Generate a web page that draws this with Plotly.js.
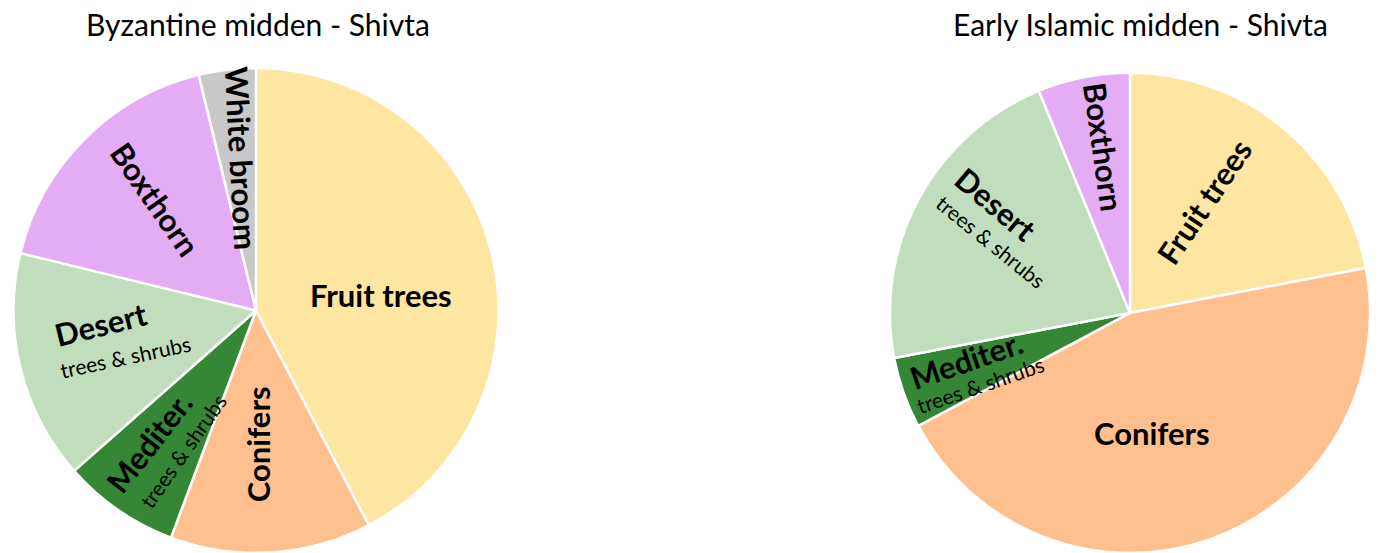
<!DOCTYPE html>
<html>
<head>
<meta charset="utf-8">
<script src="https://cdn.plot.ly/plotly-3.0.1.min.js"></script>
<style>html,body{margin:0;padding:0;background:#fff;}#chart{width:1378px;height:553px;}</style>
</head>
<body>
<div id="chart"></div>
<script>
// ---- data ----
const byzantineTitle = 'Byzantine midden - Shivta';
const byzantineLabels = ['Fruit trees', 'Conifers', 'Mediter.', 'Desert', 'Boxthorn', 'White broom'];
const byzantineSubLabels = ['', '', 'trees & shrubs', 'trees & shrubs', '', ''];
const byzantineValues = [42.3, 13.4, 7.8, 15.3, 17.4, 3.8];

const islamicTitle = 'Early Islamic midden - Shivta';
const islamicLabels = ['Fruit trees', 'Conifers', 'Mediter.', 'Desert', 'Boxthorn'];
const islamicSubLabels = ['', '', 'trees & shrubs', 'trees & shrubs', ''];
const islamicValues = [22.0, 45.2, 4.8, 21.8, 6.2];

// ---- styles ----
const colorMap = {
  'Fruit trees': '#FFE5A2',
  'Conifers': '#FFC08F',
  'Mediter.': '#358635',
  'Desert': '#C2DDBD',
  'Boxthorn': '#E3ACF5',
  'White broom': '#C8C8C8'
};
const FONT = 'Lato, Carlito, "Liberation Sans", sans-serif';
const W = 1378, H = 553;
const M = {l: 0, r: 0, t: 68, b: 0};
const PW = W - M.l - M.r, PH = H - M.t - M.b;

// label placement (angle offset from slice middle, radius fraction, text rotation)
const byzLabelStyle = [
  {main: {da: 6.7, rf: 0.52, rot: 0}},
  {main: {da: 2.6, rf: 0.55, rot: -90}},
  {main: {da: 4.4, rf: 0.70, rot: -52}, sub: {da: -6.9, rf: 0.65, rot: -55}},
  {main: {da: 8.8, rf: 0.64, rot: -14}, sub: {da: -5.6, rf: 0.57, rot: -12}},
  {main: {da: 3.0, rf: 0.62, rot: 55}},
  {main: {da: 1.2, rf: 0.63, rot: 87}}
];
const islLabelStyle = [
  {main: {da: -6.0, rf: 0.56, rot: -56}},
  {main: {da: 9.2, rf: 0.51, rot: 0}},
  {main: {da: 3.4, rf: 0.71, rot: -19}, sub: {da: -6.2, rf: 0.69, rot: -19}},
  {main: {da: 10.5, rf: 0.72, rot: 40}, sub: {da: -1.0, rf: 0.65, rot: 39}},
  {main: {da: 2.2, rf: 0.70, rot: 82}}
];

const byzDomain = {x: [12 / W, 500 / W], y: [0, 1]};
const islDomain = {x: [888 / W, 1372 / W], y: [0, 0.99]};
const byzTitleShift = 2, islTitleShift = 10;

function pieGeom(domain) {
  const x0 = M.l + domain.x[0] * PW, x1 = M.l + domain.x[1] * PW;
  const y0 = M.t + (1 - domain.y[1]) * PH, y1 = M.t + (1 - domain.y[0]) * PH;
  return {cx: (x0 + x1) / 2, cy: (y0 + y1) / 2, r: Math.min(x1 - x0, y1 - y0) / 2};
}
function toPaper(px, py) {
  return {x: (px - M.l) / PW, y: 1 - (py - M.t) / PH};
}

function makeTrace(labels, values, domain) {
  return {
    type: 'pie',
    labels: labels,
    values: values,
    sort: false,
    direction: 'clockwise',
    rotation: 0,
    domain: domain,
    marker: {colors: labels.map(l => colorMap[l]), line: {color: '#FFFFFF', width: 2.5}},
    textinfo: 'none',
    hoverinfo: 'label+value',
    showlegend: false
  };
}

function makeAnnotations(title, titleShift, labels, subs, values, styles, domain) {
  const g = pieGeom(domain);
  const total = values.reduce((a, b) => a + b, 0);
  const anns = [];
  const tp = toPaper(g.cx + titleShift, 24);
  anns.push({xref: 'paper', yref: 'paper', x: tp.x, y: tp.y, text: title, showarrow: false,
    xanchor: 'center', yanchor: 'middle', font: {family: FONT, size: 30, color: '#000'}});
  let cum = 0;
  values.forEach((v, i) => {
    const mid = (cum + v / 2) / total * 360;
    cum += v;
    const st = styles[i];
    const place = (s, text, size, weight) => {
      const a = (mid + s.da) * Math.PI / 180;
      const px = g.cx + Math.sin(a) * s.rf * g.r;
      const py = g.cy - Math.cos(a) * s.rf * g.r;
      const p = toPaper(px, py);
      anns.push({xref: 'paper', yref: 'paper', x: p.x, y: p.y, text: text, showarrow: false,
        textangle: s.rot, xanchor: 'center', yanchor: 'middle',
        font: {family: FONT, size: size, color: '#000', weight: weight}});
    };
    place(st.main, labels[i], 31, 'bold');
    if (st.sub && subs[i]) place(st.sub, subs[i], 21, 'normal');
  });
  return anns;
}

const data = [
  makeTrace(byzantineLabels, byzantineValues, byzDomain),
  makeTrace(islamicLabels, islamicValues, islDomain)
];
const annotations = []
  .concat(makeAnnotations(byzantineTitle, byzTitleShift, byzantineLabels, byzantineSubLabels, byzantineValues, byzLabelStyle, byzDomain))
  .concat(makeAnnotations(islamicTitle, islTitleShift, islamicLabels, islamicSubLabels, islamicValues, islLabelStyle, islDomain));

const layout = {
  width: W, height: H,
  margin: M,
  paper_bgcolor: '#FFFFFF',
  plot_bgcolor: '#FFFFFF',
  showlegend: false,
  annotations: annotations,
  font: {family: FONT}
};
Plotly.newPlot('chart', data, layout, {displayModeBar: false, staticPlot: false});
</script>
</body>
</html>
